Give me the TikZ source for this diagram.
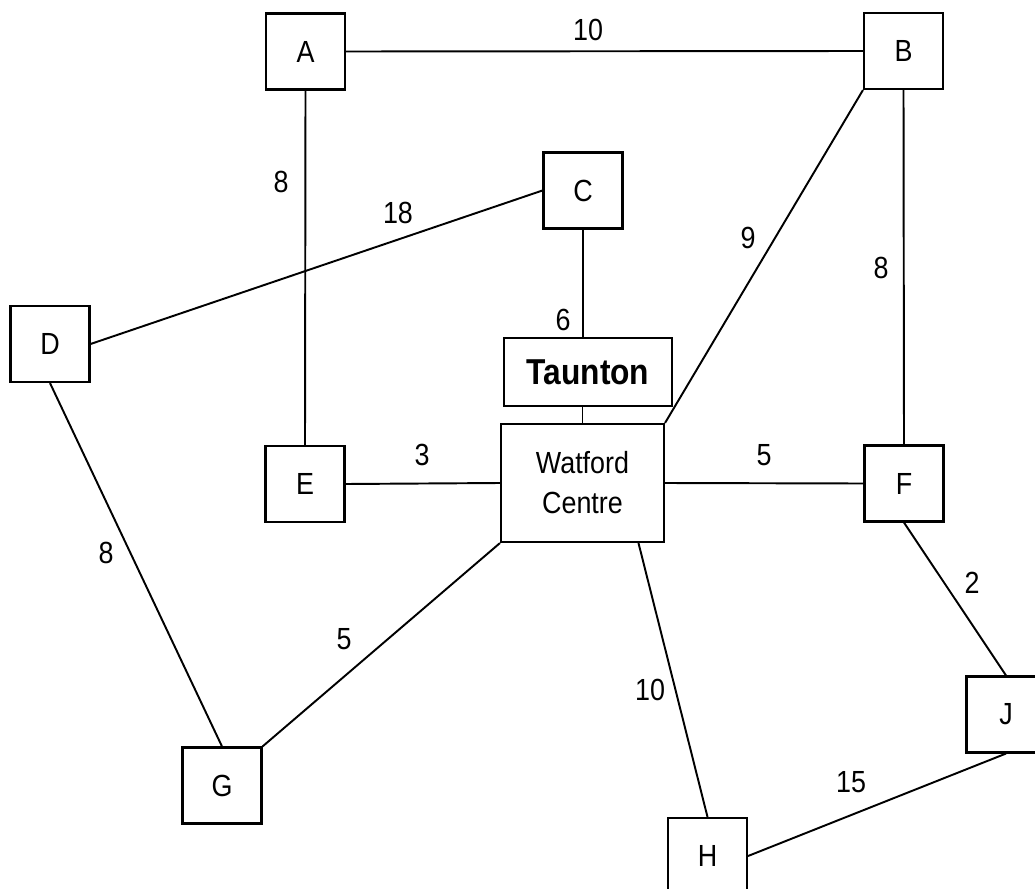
\documentclass[tikz,border=0pt]{standalone}
\usepackage{fontspec}
\setmainfont[FakeStretch=0.88]{Liberation Sans}
\usetikzlibrary{positioning}

\begin{document}
\begin{tikzpicture}[x=0.02cm,y=-0.02cm,
	town/.style={draw,line width=1.2pt,fill=white,minimum width=1.58cm,minimum height=1.52cm,inner sep=0pt,font=\fontsize{17.4}{21}\selectfont},
	dist/.style={inner sep=0pt,font=\fontsize{17.4}{21}\selectfont},
	road/.style={line width=1.1pt}]
	\useasboundingbox (0,0) rectangle (1035,889);
	\clip (0,0) rectangle (1035,889);
	% Towns
	\node[town] (A) at (305.5,51.5) {A};
	\node[town] (B) at (903.5,51) {B};
	\node[town] (C) at (583,190.5) {C};
	\node[town] (D) at (50,344) {D};
	\node[town] (E) at (305,484) {E};
	\node[town] (F) at (904,483.5) {F};
	\node[town] (G) at (222,785.5) {G};
	\node[town] (H) at (707.5,856) {H};
	\node[town] (J) at (1006,714.5) {J};
	\node[town,minimum width=3.26cm,minimum height=2.36cm,align=center,font=\fontsize{17.4}{22.7}\selectfont] (W) at (582.5,483) {Watford\\Centre};
	\node[town,minimum width=3.36cm,minimum height=1.36cm,font=\fontsize{20.5}{24}\selectfont\bfseries] (T) at (588,372) {Taunton};
	% Roads
	\draw[road] (A.east) -- (B.west);
	\draw[road] (A.south) -- (E.north);
	\draw[road] (D.east) -- (C.west);
	\draw[road] (C.south) -- (C.south |- T.north);
	\draw[road] (T.south -| W.north) -- (W.north);
	\draw[road] (B.south west) -- (W.north east);
	\draw[road] (B.south) -- (F.north);
	\draw[road] (E.east) -- (W.west);
	\draw[road] (W.east) -- (F.west);
	\draw[road] (D.south) -- (G.north);
	\draw[road] (W.south west) -- (G.north east);
	\draw[road] (W.-47) -- (H.north);
	\draw[road] (F.south) -- (J.north);
	\draw[road] (H.east) -- (J.south);
	% Distances
	\node[dist] (d-ab) at (588,30) {10};
	\node[dist] (d-ae) at (281,182) {8};
	\node[dist] (d-dc) at (398,213) {18};
	\node[dist] (d-ct) at (563,320) {6};
	\node[dist] (d-bw) at (748,238) {9};
	\node[dist] (d-bf) at (881,268) {8};
	\node[dist] (d-ew) at (422,455) {3};
	\node[dist] (d-wf) at (764,455) {5};
	\node[dist] (d-dg) at (106,553) {8};
	\node[dist] (d-wg) at (344,639) {5};
	\node[dist] (d-fj) at (972,583) {2};
	\node[dist] (d-wh) at (650,690) {10};
	\node[dist] (d-hj) at (851,782) {15};
\end{tikzpicture}
\end{document}
